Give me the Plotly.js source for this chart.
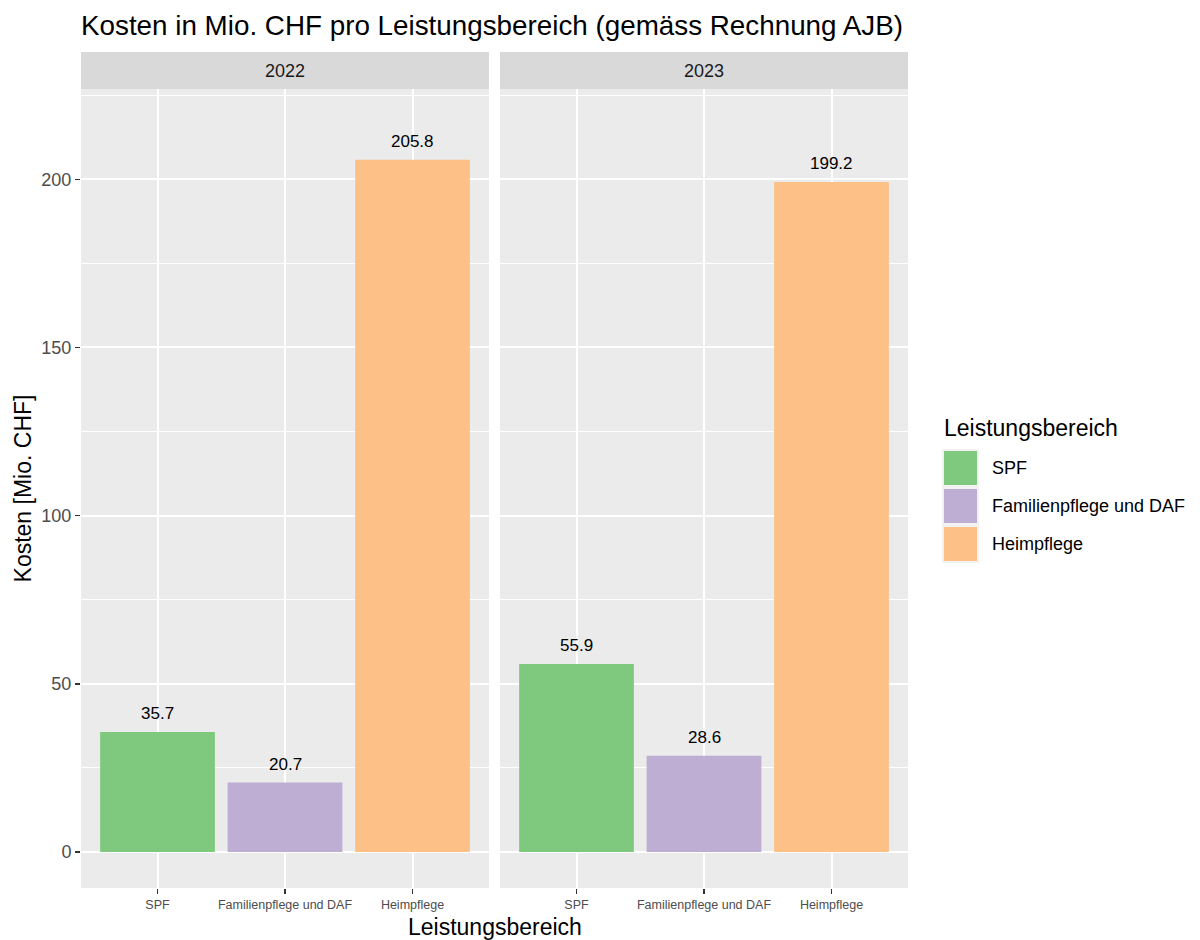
<!DOCTYPE html>
<html>
<head>
<meta charset="utf-8">
<script src="https://cdn.plot.ly/plotly-3.0.1.min.js"></script>
<style>
  html, body { margin: 0; padding: 0; background: #fff; }
  #chart { width: 1200px; height: 940px; }
</style>
</head>
<body>
<div id="chart"></div>
<script>
// Kosten pro Leistungsbereich, je Jahr (Mio. CHF)
const categories = ['SPF', 'Familienpflege und DAF', 'Heimpflege'];
const years = ['2022', '2023'];
const costs2022 = [35.7, 20.7, 205.8];
const costs2023 = [55.9, 28.6, 199.2];
const yTicks = [0, 50, 100, 150, 200];

const colors = ['#7FC97F', '#BEAED4', '#FDC086']; // Accent palette
const font = 'Liberation Sans, Arial, sans-serif';

// plot area in pixels (panels only, strips sit above)
const L = 81, R = 908, T = 89, B = 888;
const px2x = px => (px - L) / (R - L);
const px2y = py => (B - py) / (B - T);

const costsByYear = [costs2022, costs2023];
const xRefs = ['x', 'x2'];

const traces = years.map((yr, i) => ({
    type: 'bar',
    x: categories,
    y: costsByYear[i],
    xaxis: xRefs[i],
    yaxis: 'y',
    width: 0.9,
    marker: { color: colors, line: { width: 0 } },
    showlegend: false,
    hoverinfo: 'x+y'
}));

const axisX = domain => ({
    domain: domain,
    type: 'category',
    range: [-0.6, 2.6],
    anchor: 'y',
    showgrid: true,
    gridcolor: '#ffffff',
    gridwidth: 2,
    zeroline: false,
    showline: false,
    ticks: 'outside',
    ticklen: 5,
    tickwidth: 1.5,
    tickcolor: '#333333',
    tickfont: { family: font, size: 12.5, color: '#4D4D4D' },
    fixedrange: true
});

const domLeft = [0, px2x(489)];
const domRight = [px2x(500), 1];

// value labels above each bar
const labelAnn = [];
years.forEach((yr, i) => {
    categories.forEach((c, j) => {
        labelAnn.push({
            xref: xRefs[i], yref: 'y',
            x: c, y: costsByYear[i][j],
            yshift: 18,
            text: costsByYear[i][j].toFixed(1),
            showarrow: false,
            font: { family: font, size: 17, color: '#000000' }
        });
    });
});

// facet strips
const stripShapes = [domLeft, domRight].map(d => ({
    type: 'rect', xref: 'paper', yref: 'paper',
    x0: d[0], x1: d[1], y0: 1, y1: px2y(52),
    fillcolor: '#D9D9D9', line: { width: 0 }, layer: 'below'
}));
const stripAnn = years.map((yr, i) => {
    const d = i === 0 ? domLeft : domRight;
    return {
        xref: 'paper', yref: 'paper',
        x: (d[0] + d[1]) / 2, y: px2y(71),
        xanchor: 'center', yanchor: 'middle',
        text: yr, showarrow: false,
        font: { family: font, size: 18, color: '#1A1A1A' }
    };
});

// legend drawn by hand (ggplot style keys)
const keyTops = [450, 488, 526];
const legendShapes = categories.map((c, j) => ({
    type: 'rect', xref: 'paper', yref: 'paper',
    x0: px2x(943), x1: px2x(978),
    y0: px2y(keyTops[j] + 36), y1: px2y(keyTops[j]),
    fillcolor: colors[j], line: { color: '#F2F2F2', width: 2 }
}));
const legendAnn = categories.map((c, j) => ({
    xref: 'paper', yref: 'paper',
    x: px2x(990), y: px2y(keyTops[j] + 18),
    xanchor: 'left', yanchor: 'middle',
    text: c, showarrow: false,
    font: { family: font, size: 18, color: '#000000' }
}));
legendAnn.push({
    xref: 'paper', yref: 'paper',
    x: px2x(942), y: px2y(428),
    xanchor: 'left', yanchor: 'middle',
    text: 'Leistungsbereich', showarrow: false,
    font: { family: font, size: 23, color: '#000000' }
});

// shared x axis title
const xTitleAnn = {
    xref: 'paper', yref: 'paper',
    x: 0.5, y: px2y(927),
    xanchor: 'center', yanchor: 'middle',
    text: 'Leistungsbereich', showarrow: false,
    font: { family: font, size: 23, color: '#000000' }
};

const layout = {
    width: 1200,
    height: 940,
    margin: { l: L, r: 1200 - R, t: T, b: 940 - B, pad: 0 },
    paper_bgcolor: '#ffffff',
    plot_bgcolor: '#EBEBEB',
    font: { family: font },
    title: {
        text: 'Kosten in Mio. CHF pro Leistungsbereich (gemäss Rechnung AJB)',
        font: { family: font, size: 27.8, color: '#000000' },
        xref: 'paper', x: 0, xanchor: 'left',
        yref: 'container', y: 1 - 25 / 940, yanchor: 'middle'
    },
    xaxis: axisX(domLeft),
    xaxis2: axisX(domRight),
    yaxis: {
        range: [-(B - 852) / 3.3635, (852 - T) / 3.3635],
        tickvals: yTicks,
        showgrid: true,
        gridcolor: '#ffffff',
        gridwidth: 2,
        minor: { dtick: 25, tick0: 25, showgrid: true, gridcolor: '#ffffff', gridwidth: 1, ticks: '' },
        zeroline: false,
        showline: false,
        ticks: 'outside',
        ticklen: 5,
        tickwidth: 1.5,
        tickcolor: '#333333',
        tickfont: { family: font, size: 18, color: '#4D4D4D' },
        title: { text: 'Kosten [Mio. CHF]', font: { family: font, size: 23, color: '#000000' }, standoff: 3 },
        fixedrange: true
    },
    bargap: 0.1,
    shapes: stripShapes.concat(legendShapes),
    annotations: labelAnn.concat(stripAnn, legendAnn, [xTitleAnn]),
    showlegend: false
};

Plotly.newPlot('chart', traces, layout, { displayModeBar: false, staticPlot: true });
</script>
</body>
</html>
